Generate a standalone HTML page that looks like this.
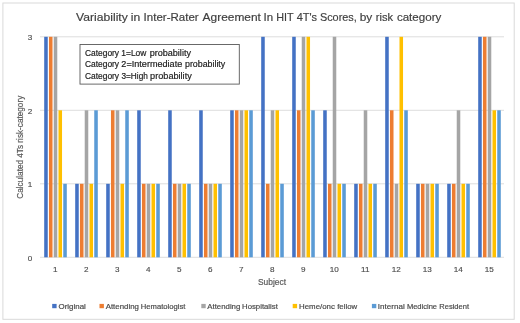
<!DOCTYPE html>
<html lang="en"><head><meta charset="utf-8"><title>Variability in Inter-Rater Agreement In HIT 4T's Scores, by risk category</title>
<style>html,body{margin:0;padding:0;background:#fff;}body{width:520px;height:323px;overflow:hidden;}svg{display:block;}text{font-family:"Liberation Sans",sans-serif;}</style></head><body>
<svg width="520" height="323" viewBox="0 0 520 323">
<rect x="0" y="0" width="520" height="323" fill="#ffffff"/>
<rect x="2.9" y="3.0" width="511.3" height="316.3" fill="#ffffff" stroke="#d9d9d9" stroke-width="1"/>
<line x1="40.0" x2="504.0" y1="257.30" y2="257.30" stroke="#d9d9d9" stroke-width="0.9"/>
<line x1="40.0" x2="504.0" y1="183.80" y2="183.80" stroke="#d9d9d9" stroke-width="0.9"/>
<line x1="40.0" x2="504.0" y1="110.30" y2="110.30" stroke="#d9d9d9" stroke-width="0.9"/>
<line x1="40.0" x2="504.0" y1="36.80" y2="36.80" stroke="#d9d9d9" stroke-width="0.9"/>
<rect x="44.20" y="36.80" width="3.55" height="220.50" fill="#4472C4"/>
<rect x="48.96" y="36.80" width="3.55" height="220.50" fill="#ED7D31"/>
<rect x="53.73" y="36.80" width="3.55" height="220.50" fill="#A5A5A5"/>
<rect x="58.49" y="110.30" width="3.55" height="147.00" fill="#FFC000"/>
<rect x="63.25" y="183.80" width="3.55" height="73.50" fill="#5B9BD5"/>
<rect x="75.20" y="183.80" width="3.55" height="73.50" fill="#4472C4"/>
<rect x="79.96" y="183.80" width="3.55" height="73.50" fill="#ED7D31"/>
<rect x="84.72" y="110.30" width="3.55" height="147.00" fill="#A5A5A5"/>
<rect x="89.49" y="183.80" width="3.55" height="73.50" fill="#FFC000"/>
<rect x="94.25" y="110.30" width="3.55" height="147.00" fill="#5B9BD5"/>
<rect x="106.20" y="183.80" width="3.55" height="73.50" fill="#4472C4"/>
<rect x="110.96" y="110.30" width="3.55" height="147.00" fill="#ED7D31"/>
<rect x="115.72" y="110.30" width="3.55" height="147.00" fill="#A5A5A5"/>
<rect x="120.49" y="183.80" width="3.55" height="73.50" fill="#FFC000"/>
<rect x="125.25" y="110.30" width="3.55" height="147.00" fill="#5B9BD5"/>
<rect x="137.20" y="110.30" width="3.55" height="147.00" fill="#4472C4"/>
<rect x="141.96" y="183.80" width="3.55" height="73.50" fill="#ED7D31"/>
<rect x="146.72" y="183.80" width="3.55" height="73.50" fill="#A5A5A5"/>
<rect x="151.49" y="183.80" width="3.55" height="73.50" fill="#FFC000"/>
<rect x="156.25" y="183.80" width="3.55" height="73.50" fill="#5B9BD5"/>
<rect x="168.20" y="110.30" width="3.55" height="147.00" fill="#4472C4"/>
<rect x="172.96" y="183.80" width="3.55" height="73.50" fill="#ED7D31"/>
<rect x="177.72" y="183.80" width="3.55" height="73.50" fill="#A5A5A5"/>
<rect x="182.49" y="183.80" width="3.55" height="73.50" fill="#FFC000"/>
<rect x="187.25" y="183.80" width="3.55" height="73.50" fill="#5B9BD5"/>
<rect x="199.20" y="110.30" width="3.55" height="147.00" fill="#4472C4"/>
<rect x="203.96" y="183.80" width="3.55" height="73.50" fill="#ED7D31"/>
<rect x="208.72" y="183.80" width="3.55" height="73.50" fill="#A5A5A5"/>
<rect x="213.49" y="183.80" width="3.55" height="73.50" fill="#FFC000"/>
<rect x="218.25" y="183.80" width="3.55" height="73.50" fill="#5B9BD5"/>
<rect x="230.20" y="110.30" width="3.55" height="147.00" fill="#4472C4"/>
<rect x="234.96" y="110.30" width="3.55" height="147.00" fill="#ED7D31"/>
<rect x="239.72" y="110.30" width="3.55" height="147.00" fill="#A5A5A5"/>
<rect x="244.49" y="110.30" width="3.55" height="147.00" fill="#FFC000"/>
<rect x="249.25" y="110.30" width="3.55" height="147.00" fill="#5B9BD5"/>
<rect x="261.20" y="36.80" width="3.55" height="220.50" fill="#4472C4"/>
<rect x="265.96" y="183.80" width="3.55" height="73.50" fill="#ED7D31"/>
<rect x="270.73" y="110.30" width="3.55" height="147.00" fill="#A5A5A5"/>
<rect x="275.49" y="110.30" width="3.55" height="147.00" fill="#FFC000"/>
<rect x="280.25" y="183.80" width="3.55" height="73.50" fill="#5B9BD5"/>
<rect x="292.20" y="36.80" width="3.55" height="220.50" fill="#4472C4"/>
<rect x="296.96" y="110.30" width="3.55" height="147.00" fill="#ED7D31"/>
<rect x="301.73" y="36.80" width="3.55" height="220.50" fill="#A5A5A5"/>
<rect x="306.49" y="36.80" width="3.55" height="220.50" fill="#FFC000"/>
<rect x="311.25" y="110.30" width="3.55" height="147.00" fill="#5B9BD5"/>
<rect x="323.20" y="110.30" width="3.55" height="147.00" fill="#4472C4"/>
<rect x="327.96" y="183.80" width="3.55" height="73.50" fill="#ED7D31"/>
<rect x="332.73" y="36.80" width="3.55" height="220.50" fill="#A5A5A5"/>
<rect x="337.49" y="183.80" width="3.55" height="73.50" fill="#FFC000"/>
<rect x="342.25" y="183.80" width="3.55" height="73.50" fill="#5B9BD5"/>
<rect x="354.20" y="183.80" width="3.55" height="73.50" fill="#4472C4"/>
<rect x="358.96" y="183.80" width="3.55" height="73.50" fill="#ED7D31"/>
<rect x="363.73" y="110.30" width="3.55" height="147.00" fill="#A5A5A5"/>
<rect x="368.49" y="183.80" width="3.55" height="73.50" fill="#FFC000"/>
<rect x="373.25" y="183.80" width="3.55" height="73.50" fill="#5B9BD5"/>
<rect x="385.20" y="36.80" width="3.55" height="220.50" fill="#4472C4"/>
<rect x="389.96" y="110.30" width="3.55" height="147.00" fill="#ED7D31"/>
<rect x="394.73" y="183.80" width="3.55" height="73.50" fill="#A5A5A5"/>
<rect x="399.49" y="36.80" width="3.55" height="220.50" fill="#FFC000"/>
<rect x="404.25" y="110.30" width="3.55" height="147.00" fill="#5B9BD5"/>
<rect x="416.20" y="183.80" width="3.55" height="73.50" fill="#4472C4"/>
<rect x="420.96" y="183.80" width="3.55" height="73.50" fill="#ED7D31"/>
<rect x="425.73" y="183.80" width="3.55" height="73.50" fill="#A5A5A5"/>
<rect x="430.49" y="183.80" width="3.55" height="73.50" fill="#FFC000"/>
<rect x="435.25" y="183.80" width="3.55" height="73.50" fill="#5B9BD5"/>
<rect x="447.20" y="183.80" width="3.55" height="73.50" fill="#4472C4"/>
<rect x="451.96" y="183.80" width="3.55" height="73.50" fill="#ED7D31"/>
<rect x="456.73" y="110.30" width="3.55" height="147.00" fill="#A5A5A5"/>
<rect x="461.49" y="183.80" width="3.55" height="73.50" fill="#FFC000"/>
<rect x="466.25" y="183.80" width="3.55" height="73.50" fill="#5B9BD5"/>
<rect x="478.20" y="36.80" width="3.55" height="220.50" fill="#4472C4"/>
<rect x="482.96" y="36.80" width="3.55" height="220.50" fill="#ED7D31"/>
<rect x="487.73" y="36.80" width="3.55" height="220.50" fill="#A5A5A5"/>
<rect x="492.49" y="110.30" width="3.55" height="147.00" fill="#FFC000"/>
<rect x="497.25" y="110.30" width="3.55" height="147.00" fill="#5B9BD5"/>
<text y="21.4" font-size="11.8" fill="#404040" stroke="#404040" stroke-width="0.18"><tspan x="76.12" textLength="51.65" lengthAdjust="spacingAndGlyphs">Variability</tspan> <tspan x="130.82" textLength="9.45" lengthAdjust="spacingAndGlyphs">in</tspan> <tspan x="143.6" textLength="55.08" lengthAdjust="spacingAndGlyphs">Inter-Rater</tspan> <tspan x="202.61" textLength="58.3" lengthAdjust="spacingAndGlyphs">Agreement</tspan> <tspan x="263.51" textLength="9.6" lengthAdjust="spacingAndGlyphs">In</tspan> <tspan x="276.17" textLength="17.22" lengthAdjust="spacingAndGlyphs">HIT</tspan> <tspan x="296.68" textLength="20.42" lengthAdjust="spacingAndGlyphs">4T's</tspan> <tspan x="319.94" textLength="36.86" lengthAdjust="spacingAndGlyphs">Scores,</tspan> <tspan x="359.73" textLength="12.57" lengthAdjust="spacingAndGlyphs">by</tspan> <tspan x="375.77" textLength="17.23" lengthAdjust="spacingAndGlyphs">risk</tspan> <tspan x="396.9" textLength="44.4" lengthAdjust="spacingAndGlyphs">category</tspan></text>
<text x="30.1" y="260.50" font-size="8.1" fill="#4d4d4d" stroke="#4d4d4d" stroke-width="0.15" text-anchor="middle">0</text>
<text x="30.1" y="187.00" font-size="8.1" fill="#4d4d4d" stroke="#4d4d4d" stroke-width="0.15" text-anchor="middle">1</text>
<text x="30.1" y="113.50" font-size="8.1" fill="#4d4d4d" stroke="#4d4d4d" stroke-width="0.15" text-anchor="middle">2</text>
<text x="30.1" y="40.00" font-size="8.1" fill="#4d4d4d" stroke="#4d4d4d" stroke-width="0.15" text-anchor="middle">3</text>
<text x="55.20" y="271.6" font-size="8.1" fill="#4d4d4d" stroke="#4d4d4d" stroke-width="0.15" text-anchor="middle">1</text>
<text x="86.20" y="271.6" font-size="8.1" fill="#4d4d4d" stroke="#4d4d4d" stroke-width="0.15" text-anchor="middle">2</text>
<text x="117.20" y="271.6" font-size="8.1" fill="#4d4d4d" stroke="#4d4d4d" stroke-width="0.15" text-anchor="middle">3</text>
<text x="148.20" y="271.6" font-size="8.1" fill="#4d4d4d" stroke="#4d4d4d" stroke-width="0.15" text-anchor="middle">4</text>
<text x="179.20" y="271.6" font-size="8.1" fill="#4d4d4d" stroke="#4d4d4d" stroke-width="0.15" text-anchor="middle">5</text>
<text x="210.20" y="271.6" font-size="8.1" fill="#4d4d4d" stroke="#4d4d4d" stroke-width="0.15" text-anchor="middle">6</text>
<text x="241.20" y="271.6" font-size="8.1" fill="#4d4d4d" stroke="#4d4d4d" stroke-width="0.15" text-anchor="middle">7</text>
<text x="272.20" y="271.6" font-size="8.1" fill="#4d4d4d" stroke="#4d4d4d" stroke-width="0.15" text-anchor="middle">8</text>
<text x="303.20" y="271.6" font-size="8.1" fill="#4d4d4d" stroke="#4d4d4d" stroke-width="0.15" text-anchor="middle">9</text>
<text x="334.20" y="271.6" font-size="8.1" fill="#4d4d4d" stroke="#4d4d4d" stroke-width="0.15" text-anchor="middle">10</text>
<text x="365.20" y="271.6" font-size="8.1" fill="#4d4d4d" stroke="#4d4d4d" stroke-width="0.15" text-anchor="middle">11</text>
<text x="396.20" y="271.6" font-size="8.1" fill="#4d4d4d" stroke="#4d4d4d" stroke-width="0.15" text-anchor="middle">12</text>
<text x="427.20" y="271.6" font-size="8.1" fill="#4d4d4d" stroke="#4d4d4d" stroke-width="0.15" text-anchor="middle">13</text>
<text x="458.20" y="271.6" font-size="8.1" fill="#4d4d4d" stroke="#4d4d4d" stroke-width="0.15" text-anchor="middle">14</text>
<text x="489.20" y="271.6" font-size="8.1" fill="#4d4d4d" stroke="#4d4d4d" stroke-width="0.15" text-anchor="middle">15</text>
<text x="258.01" y="284.8" font-size="8.2" fill="#595959" stroke="#595959" stroke-width="0.18" textLength="28.04" lengthAdjust="spacingAndGlyphs">Subject</text>
<g transform="translate(23.2,298.40) rotate(-90)"><text x="99.7" y="0" font-size="8.3" fill="#595959" stroke="#595959" stroke-width="0.18" textLength="102.97" lengthAdjust="spacingAndGlyphs">Calculated 4Ts risk-category</text></g>
<rect x="80" y="44.5" width="159.3" height="39.6" fill="#ffffff" stroke="#595959" stroke-width="0.9"/>
<text y="55.7" font-size="8.6" fill="#202020" stroke="#202020" stroke-width="0.18"><tspan x="84.9" textLength="34.2" lengthAdjust="spacingAndGlyphs">Category</tspan> <tspan x="121.36" textLength="25.03" lengthAdjust="spacingAndGlyphs">1=Low</tspan> <tspan x="149.73" textLength="41.2" lengthAdjust="spacingAndGlyphs">probability</tspan></text>
<text y="67.3" font-size="8.6" fill="#202020" stroke="#202020" stroke-width="0.18"><tspan x="84.9" textLength="34.2" lengthAdjust="spacingAndGlyphs">Category</tspan> <tspan x="121.35" textLength="60.92" lengthAdjust="spacingAndGlyphs">2=Intermediate</tspan> <tspan x="184.98" textLength="40.28" lengthAdjust="spacingAndGlyphs">probability</tspan></text>
<text y="78.9" font-size="8.6" fill="#202020" stroke="#202020" stroke-width="0.18"><tspan x="84.9" textLength="34.2" lengthAdjust="spacingAndGlyphs">Category</tspan> <tspan x="121.44" textLength="26.39" lengthAdjust="spacingAndGlyphs">3=High</tspan> <tspan x="150.14" textLength="41.61" lengthAdjust="spacingAndGlyphs">probability</tspan></text>
<rect x="52.2" y="303.9" width="4.4" height="4.3" fill="#4472C4"/>
<rect x="99.5" y="303.9" width="4.4" height="4.3" fill="#ED7D31"/>
<rect x="201.3" y="303.9" width="4.4" height="4.3" fill="#A5A5A5"/>
<rect x="292.7" y="303.9" width="4.4" height="4.3" fill="#FFC000"/>
<rect x="371.9" y="303.9" width="4.4" height="4.3" fill="#5B9BD5"/>
<text y="308.6" font-size="7.7" fill="#484848" stroke="#484848" stroke-width="0.18"><tspan x="58.57" textLength="27.24" lengthAdjust="spacingAndGlyphs">Original</tspan></text>
<text y="308.6" font-size="7.7" fill="#484848" stroke="#484848" stroke-width="0.18"><tspan x="105.7" textLength="33.17" lengthAdjust="spacingAndGlyphs">Attending</tspan> <tspan x="140.87" textLength="44.57" lengthAdjust="spacingAndGlyphs">Hematologist</tspan></text>
<text y="308.6" font-size="7.7" fill="#484848" stroke="#484848" stroke-width="0.18"><tspan x="207.32" textLength="32.98" lengthAdjust="spacingAndGlyphs">Attending</tspan> <tspan x="242.09" textLength="35.75" lengthAdjust="spacingAndGlyphs">Hospitalist</tspan></text>
<text y="308.6" font-size="7.7" fill="#484848" stroke="#484848" stroke-width="0.18"><tspan x="299.04" textLength="35.87" lengthAdjust="spacingAndGlyphs">Heme/onc</tspan> <tspan x="337.15" textLength="20.04" lengthAdjust="spacingAndGlyphs">fellow</tspan></text>
<text y="308.6" font-size="7.7" fill="#484848" stroke="#484848" stroke-width="0.18"><tspan x="377.87" textLength="26.91" lengthAdjust="spacingAndGlyphs">Internal</tspan> <tspan x="406.9" textLength="30.17" lengthAdjust="spacingAndGlyphs">Medicine</tspan> <tspan x="439.27" textLength="29.75" lengthAdjust="spacingAndGlyphs">Resident</tspan></text>
</svg></body></html>
